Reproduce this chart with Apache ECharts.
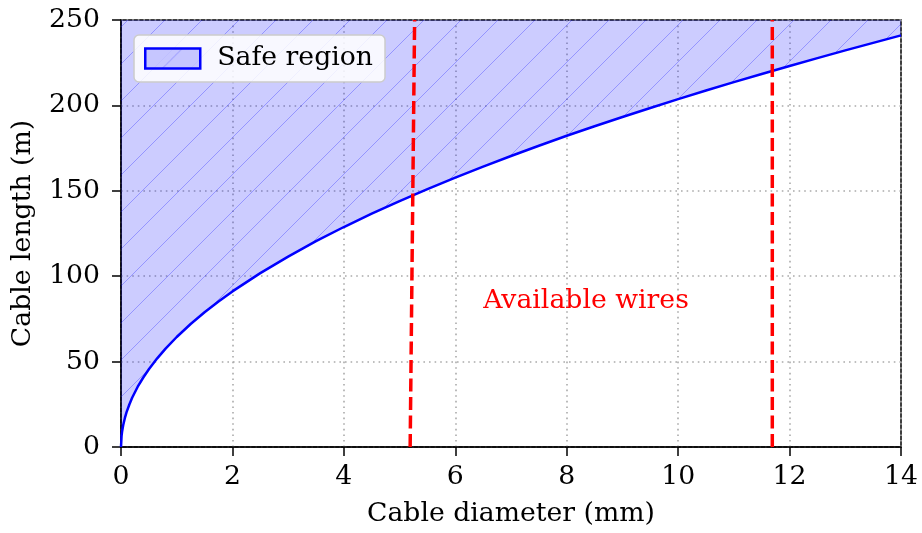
<!DOCTYPE html>
<html>
<head>
<meta charset="utf-8">
<script src="https://cdn.jsdelivr.net/npm/echarts@6/dist/echarts.min.js"></script>
<style>
  html, body { margin: 0; padding: 0; background: #fff; }
  #chart { width: 922px; height: 533px; }
</style>
</head>
<body>
<div id="chart"></div>
<script>
// Maximum safe cable length (m) for each cable diameter (mm)
const diameter = [0, 0.01, 0.02, 0.04, 0.07, 0.1, 0.15, 0.2, 0.3, 0.4, 0.5, 0.65, 0.8, 1,
  1.25, 1.5, 1.75, 2, 2.5, 3, 3.5, 4, 4.5, 5, 5.5, 6, 6.5, 7, 7.5, 8, 8.5, 9, 9.5, 10,
  10.5, 11, 11.5, 12, 12.5, 13, 13.5, 14];
const safeLength = [0, 6.4, 9.1, 12.9, 17.0, 20.4, 24.9, 28.8, 35.3, 40.7, 45.5, 51.9, 57.6, 64.4,
  72.0, 78.9, 85.2, 91.1, 101.8, 111.5, 120.5, 128.8, 136.6, 144.0, 151.0, 157.7, 164.2, 170.4, 176.4, 182.2, 187.8, 193.2, 198.5, 203.7,
  208.7, 213.6, 218.4, 223.1, 227.7, 232.2, 236.6, 241.0];

// Diameters of the wires on hand, each drawn as a dashed marker line
const wireA = { x: [5.19, 5.27], y: [0, 250] };
const wireB = { x: [11.69, 11.69], y: [0, 250] };

const xTicks = [0, 2, 4, 6, 8, 10, 12, 14];
const yTicks = [0, 50, 100, 150, 200, 250];

const noteText = 'Available wires';
const notePos = [6.5, 80];

const FONT = '"DejaVu Serif", serif';
const FS = 26.7;

// Diagonal hatch tile over a translucent blue fill
function hatchTile() {
  const s = 37;
  const c = document.createElement('canvas');
  c.width = s; c.height = s;
  const g = c.getContext('2d');
  g.fillStyle = 'rgba(0,0,255,0.2)';
  g.fillRect(0, 0, s, s);
  g.strokeStyle = 'rgba(0,0,255,0.27)';
  g.lineWidth = 1;
  g.beginPath();
  g.moveTo(-2, s + 2); g.lineTo(s + 2, -2);
  g.moveTo(-2, 2); g.lineTo(2, -2);
  g.moveTo(s - 2, s + 2); g.lineTo(s + 2, s - 2);
  g.stroke();
  return c;
}
const hatch = { image: hatchTile(), repeat: 'repeat' };

const chart = echarts.init(document.getElementById('chart'), null, { renderer: 'canvas' });

const zip = (xs, ys) => xs.map((x, i) => [x, ys[i]]);

const gridLine = { show: true, lineStyle: { color: '#aaaaaa', width: 1.6, type: [1.6, 4] } };
const axisLine = { show: true, onZero: false, lineStyle: { color: '#000', width: 1.5 } };
const axisTick = { show: true, length: 9, lineStyle: { color: '#000', width: 1.5 } };

chart.setOption({
  animation: false,
  textStyle: { fontFamily: FONT },
  grid: {
    left: 121, right: 21, top: 20, bottom: 85,
    show: true, borderColor: '#000', borderWidth: 1.5, backgroundColor: 'transparent'
  },
  legend: {
    left: 134, top: 35,
    orient: 'vertical',
    backgroundColor: 'rgba(255,255,255,0.85)',
    borderColor: '#cccccc', borderWidth: 1.5, borderRadius: 5,
    padding: [10, 12, 10, 10],
    itemWidth: 55, itemHeight: 20, itemGap: 10,
    textStyle: { fontFamily: FONT, fontSize: FS, color: '#000', padding: [0, 0, 0, 12] },
    data: [{
      name: 'Safe region', icon: 'rect',
      itemStyle: { color: hatch, borderColor: '#0000ff', borderWidth: 2.5 }
    }]
  },
  xAxis: {
    type: 'value', min: 0, max: 14, interval: 2,
    name: 'Cable diameter (mm)', nameLocation: 'middle', nameGap: 54,
    nameTextStyle: { fontFamily: FONT, fontSize: FS, color: '#000' },
    axisLine, axisTick,
    axisLabel: { fontFamily: FONT, fontSize: FS, color: '#000', margin: 17,
      formatter: v => xTicks.includes(v) ? String(v) : '' },
    splitLine: gridLine
  },
  yAxis: {
    type: 'value', min: 0, max: 250, interval: 50,
    name: 'Cable length (m)', nameLocation: 'middle', nameGap: 84,
    nameTextStyle: { fontFamily: FONT, fontSize: FS, color: '#000' },
    axisLine, axisTick,
    axisLabel: { fontFamily: FONT, fontSize: FS, color: '#000', margin: 21,
      formatter: v => yTicks.includes(v) ? String(v) : '' },
    splitLine: gridLine
  },
  series: [
    {
      name: 'Safe region', type: 'line',
      data: zip(diameter, safeLength),
      smooth: false, showSymbol: false, symbol: 'none',
      lineStyle: { color: '#0000ff', width: 2.5 },
      itemStyle: { color: '#0000ff' },
      areaStyle: { origin: 'end', color: hatch, opacity: 1 },
      z: 3
    },
    {
      name: 'wireA', type: 'line', data: zip(wireA.x, wireA.y),
      showSymbol: false, symbol: 'none',
      lineStyle: { color: '#ff0000', width: 3.5, type: [13, 5.5] }, z: 4
    },
    {
      name: 'wireB', type: 'line', data: zip(wireB.x, wireB.y),
      showSymbol: false, symbol: 'none',
      lineStyle: { color: '#ff0000', width: 3.5, type: [13, 5.5] }, z: 4
    },
    {
      name: 'note', type: 'scatter', data: [notePos], symbolSize: 0, silent: true,
      itemStyle: { opacity: 1 },
      label: {
        show: true, formatter: noteText, position: [0, 0], offset: [0, 4],
        align: 'left', verticalAlign: 'bottom',
        fontFamily: FONT, fontSize: FS, color: '#ff0000'
      },
      z: 5
    }
  ]
});
</script>
</body>
</html>
